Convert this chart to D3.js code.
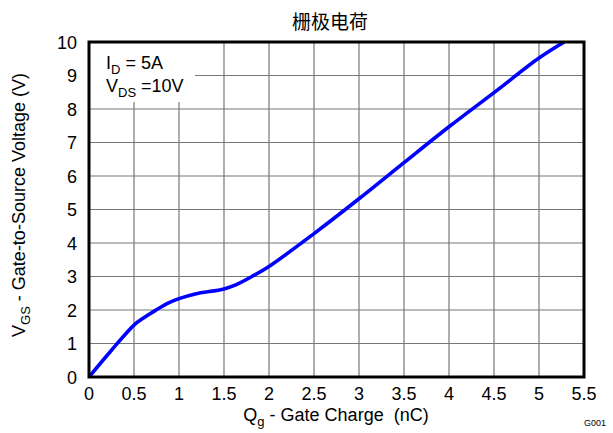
<!DOCTYPE html>
<html><head><meta charset="utf-8">
<script src="https://cdn.jsdelivr.net/npm/d3@7"></script>
<style>body{margin:0;background:#fff;}svg{display:block;font-family:"Liberation Sans",Arial,sans-serif;}text{white-space:pre;}</style>
</head><body>
<svg id="c" width="613" height="433"></svg>
<script>
const title = "栅极电荷";
const xTicks = [0,0.5,1,1.5,2,2.5,3,3.5,4,4.5,5,5.5];
const xTickLabels = ["0","0.5","1","1.5","2","2.5","3","3.5","4","4.5","5","5.5"];
const yTicks = [0,1,2,3,4,5,6,7,8,9,10];
const qg  = [0,0.25,0.5,0.61,0.74,0.89,1.0,1.18,1.5,1.63,1.81,2.0,2.5,3.0,3.5,4.0,4.5,5.0,5.28];
const vgs = [0,0.8,1.55,1.77,1.99,2.22,2.34,2.48,2.63,2.75,3.0,3.3,4.28,5.32,6.4,7.47,8.49,9.52,10];

const svg = d3.select("#c");
const L=89,R=584,T=42,B=377;
const x = d3.scaleLinear().domain([0,5.5]).range([L,R]);
const y = d3.scaleLinear().domain([0,10]).range([B,T]);
const FS = 18, SUB = 13;

svg.append("defs").append("clipPath").attr("id","clip").append("rect")
  .attr("x",L).attr("y",T).attr("width",R-L).attr("height",B-T);

// grid
const g = svg.append("g");
g.selectAll("line.v").data(xTicks.slice(1,-1)).enter().append("line")
  .attr("x1",d=>x(d)).attr("x2",d=>x(d)).attr("y1",T).attr("y2",B)
  .attr("stroke","#777").attr("stroke-width",1.2);
g.selectAll("line.h").data(yTicks.slice(1,-1)).enter().append("line")
  .attr("x1",L).attr("x2",R).attr("y1",d=>y(d)).attr("y2",d=>y(d))
  .attr("stroke","#777").attr("stroke-width",1.2);

// legend background
svg.append("rect").attr("x",L).attr("y",T).attr("width",106).attr("height",60).attr("fill","#fff");

// curve
const pts = qg.map((d,i)=>[d,vgs[i]]);
svg.append("path").datum(pts).attr("clip-path","url(#clip)")
  .attr("d",d3.line().x(d=>x(d[0])).y(d=>y(d[1])).curve(d3.curveCatmullRom.alpha(0.5)))
  .attr("fill","none").attr("stroke","#0000ff").attr("stroke-width",3.6);

// frame
svg.append("rect").attr("x",L).attr("y",T).attr("width",R-L).attr("height",B-T)
  .attr("fill","none").attr("stroke","#000").attr("stroke-width",3);

// tick labels
svg.selectAll("text.xt").data(xTicks).enter().append("text")
  .attr("x",d=>x(d)).attr("y",B+23).attr("text-anchor","middle")
  .attr("font-size",FS).text((d,i)=>xTickLabels[i]);
svg.selectAll("text.yt").data(yTicks).enter().append("text")
  .attr("x",L-12).attr("y",d=>y(d)+6.5).attr("text-anchor","end")
  .attr("font-size",FS).text(d=>d);

// title
svg.append("text").attr("x",330).attr("y",29).attr("text-anchor","middle")
  .attr("font-size",19).attr("font-family","Noto Sans CJK SC").text(title);

// x label
const xl = svg.append("text").attr("x",336).attr("y",421).attr("text-anchor","middle").attr("font-size",FS);
xl.append("tspan").text("Q");
xl.append("tspan").attr("font-size",SUB).attr("dy",5).text("g");
xl.append("tspan").attr("dy",-5).text(" - Gate Charge  (nC)");

// y label
const yl = svg.append("text").attr("transform","translate(25,205) rotate(-90)").attr("text-anchor","middle").attr("font-size",FS);
yl.append("tspan").text("V");
yl.append("tspan").attr("font-size",SUB).attr("dy",5).text("GS");
yl.append("tspan").attr("dy",-5).text(" - Gate-to-Source Voltage (V)");

// legend text
const t1 = svg.append("text").attr("x",106).attr("y",69).attr("font-size",FS);
t1.append("tspan").text("I");
t1.append("tspan").attr("font-size",SUB).attr("dy",5).text("D");
t1.append("tspan").attr("dy",-5).text(" = 5A");
const t2 = svg.append("text").attr("x",106).attr("y",92).attr("font-size",FS);
t2.append("tspan").text("V");
t2.append("tspan").attr("font-size",SUB).attr("dy",5).text("DS");
t2.append("tspan").attr("dy",-5).text(" =10V");

svg.append("text").attr("x",606).attr("y",426).attr("text-anchor","end").attr("font-size",9).text("G001");
</script>
</body></html>
